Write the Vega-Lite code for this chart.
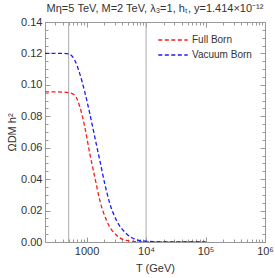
{
  "$schema": "https://vega.github.io/schema/vega-lite/v6.json",
  "width": 220,
  "height": 220,
  "autosize": {"type": "none"},
  "padding": {"left": 45, "top": 22, "right": 10, "bottom": 36},
  "title": {"text": "Mη=5 TeV, M=2 TeV, λ₃=1, hₜ, y=1.414×10⁻¹²", "font": "Liberation Sans", "fontSize": 11, "fontWeight": "normal", "color": "#333", "offset": 2, "anchor": "middle"},
  "config": {
    "view": {"stroke": "#999", "strokeWidth": 1},
    "axis": {"labelFont": "Liberation Sans", "titleFont": "Liberation Sans", "labelFontSize": 11, "titleFontSize": 11, "labelColor": "#333", "titleColor": "#333", "titleFontWeight": "normal", "domainColor": "#999", "tickColor": "#999", "grid": false}
  },
  "datasets": {
    "curves": [
      {"T": 200, "omega": 0.0955, "series": "Full Born"},
      {"T": 300, "omega": 0.0955, "series": "Full Born"},
      {"T": 400, "omega": 0.0954, "series": "Full Born"},
      {"T": 500, "omega": 0.0950, "series": "Full Born"},
      {"T": 632, "omega": 0.0934, "series": "Full Born"},
      {"T": 770, "omega": 0.0860, "series": "Full Born"},
      {"T": 932, "omega": 0.0733, "series": "Full Born"},
      {"T": 1132, "omega": 0.0563, "series": "Full Born"},
      {"T": 1373, "omega": 0.0414, "series": "Full Born"},
      {"T": 1668, "omega": 0.0266, "series": "Full Born"},
      {"T": 2160, "omega": 0.0138, "series": "Full Born"},
      {"T": 3180, "omega": 0.0043, "series": "Full Born"},
      {"T": 4680, "omega": 0.0010, "series": "Full Born"},
      {"T": 7000, "omega": 0.0002, "series": "Full Born"},
      {"T": 10000, "omega": 0.00005, "series": "Full Born"},
      {"T": 100000, "omega": 0.0, "series": "Full Born"},
      {"T": 200, "omega": 0.1200, "series": "Vacuum Born"},
      {"T": 300, "omega": 0.1200, "series": "Vacuum Born"},
      {"T": 400, "omega": 0.1200, "series": "Vacuum Born"},
      {"T": 500, "omega": 0.1197, "series": "Vacuum Born"},
      {"T": 632, "omega": 0.1157, "series": "Vacuum Born"},
      {"T": 770, "omega": 0.1070, "series": "Vacuum Born"},
      {"T": 932, "omega": 0.0955, "series": "Vacuum Born"},
      {"T": 1132, "omega": 0.0818, "series": "Vacuum Born"},
      {"T": 1373, "omega": 0.0669, "series": "Vacuum Born"},
      {"T": 1668, "omega": 0.0520, "series": "Vacuum Born"},
      {"T": 2020, "omega": 0.0372, "series": "Vacuum Born"},
      {"T": 2460, "omega": 0.0245, "series": "Vacuum Born"},
      {"T": 3180, "omega": 0.0138, "series": "Vacuum Born"},
      {"T": 4680, "omega": 0.0053, "series": "Vacuum Born"},
      {"T": 6900, "omega": 0.0015, "series": "Vacuum Born"},
      {"T": 10000, "omega": 0.0005, "series": "Vacuum Born"},
      {"T": 20000, "omega": 0.0001, "series": "Vacuum Born"},
      {"T": 100000, "omega": 0.0, "series": "Vacuum Born"}
    ],
    "marks": [{"T": 500}, {"T": 10000}]
  },
  "resolve": {"axis": {"x": "independent", "y": "independent"}},
  "layer": [
    {
      "data": {"name": "marks"},
      "mark": {"type": "rule", "color": "#aaa", "strokeWidth": 1},
      "encoding": {
        "x": {"field": "T", "type": "quantitative", "scale": {"type": "log", "domain": [200, 1000000], "nice": false}, "axis": null}
      }
    },
    {
      "data": {"name": "curves"},
      "mark": {"type": "line", "opacity": 0},
      "encoding": {
        "x": {"field": "T", "type": "quantitative", "scale": {"type": "log", "domain": [200, 1000000], "nice": false},
          "axis": {"orient": "top", "title": null, "labels": false, "domain": false,
            "values": [200,300,400,500,600,700,800,900,1000,2000,3000,4000,5000,6000,7000,8000,9000,10000,20000,30000,40000,50000,60000,70000,80000,90000,100000,200000,300000,400000,500000,600000,700000,800000,900000,1000000],
            "tickSize": {"condition": {"test": "datum.value == 1000 || datum.value == 10000 || datum.value == 100000 || datum.value == 1000000", "value": -5}, "value": -3}}},
        "y": {"field": "omega", "type": "quantitative", "scale": {"domain": [0, 0.14], "nice": false, "zero": false},
          "axis": {"orient": "right", "title": null, "labels": false, "domain": false,
            "values": [0,0.005,0.01,0.015,0.02,0.025,0.03,0.035,0.04,0.045,0.05,0.055,0.06,0.065,0.07,0.075,0.08,0.085,0.09,0.095,0.1,0.105,0.11,0.115,0.12,0.125,0.13,0.135,0.14],
            "tickSize": {"condition": {"test": "abs(datum.value*50 - round(datum.value*50)) < 0.001", "value": -5}, "value": -3}}}
      }
    },
    {
      "data": {"name": "curves"},
      "mark": {"type": "line", "strokeDash": [4, 2.5], "strokeWidth": 1.3, "interpolate": "monotone", "clip": true},
      "encoding": {
        "x": {"field": "T", "type": "quantitative", "scale": {"type": "log", "domain": [200, 1000000], "nice": false},
          "axis": {"orient": "bottom", "title": "T (GeV)", "titlePadding": 4,
            "values": [200,300,400,500,600,700,800,900,1000,2000,3000,4000,5000,6000,7000,8000,9000,10000,20000,30000,40000,50000,60000,70000,80000,90000,100000,200000,300000,400000,500000,600000,700000,800000,900000,1000000],
            "labelExpr": "datum.value == 1000 ? '1000' : datum.value == 10000 ? '10⁴' : datum.value == 100000 ? '10⁵' : datum.value == 1000000 ? '10⁶' : ''",
            "tickSize": {"condition": {"test": "datum.value == 1000 || datum.value == 10000 || datum.value == 100000 || datum.value == 1000000", "value": -5}, "value": -3},
            "labelPadding": 8, "labelOverlap": false, "labelFlush": false}},
        "y": {"field": "omega", "type": "quantitative", "scale": {"domain": [0, 0.14], "nice": false, "zero": false},
          "axis": {"orient": "left", "title": "ΩDM h²", "titlePadding": 3,
            "values": [0,0.005,0.01,0.015,0.02,0.025,0.03,0.035,0.04,0.045,0.05,0.055,0.06,0.065,0.07,0.075,0.08,0.085,0.09,0.095,0.1,0.105,0.11,0.115,0.12,0.125,0.13,0.135,0.14],
            "labelExpr": "abs(datum.value*50 - round(datum.value*50)) < 0.001 ? format(datum.value, '.2f') : ''",
            "tickSize": {"condition": {"test": "abs(datum.value*50 - round(datum.value*50)) < 0.001", "value": -5}, "value": -3},
            "labelPadding": 8, "labelOverlap": false, "labelFlush": false}},
        "color": {"field": "series", "type": "nominal", "scale": {"domain": ["Full Born", "Vacuum Born"], "range": ["#ff1a1a", "#1a1aff"]},
          "legend": {"orient": "none", "legendX": 120, "legendY": 10, "title": null, "symbolType": "M-2.1,0H2.1", "symbolDash": [4, 2.5], "symbolStrokeWidth": 1.3, "symbolSize": 196, "symbolFillColor": "transparent", "labelOffset": 11, "labelFont": "Liberation Sans", "labelFontSize": 10, "labelColor": "#333", "rowPadding": 2}}
      }
    }
  ]
}
